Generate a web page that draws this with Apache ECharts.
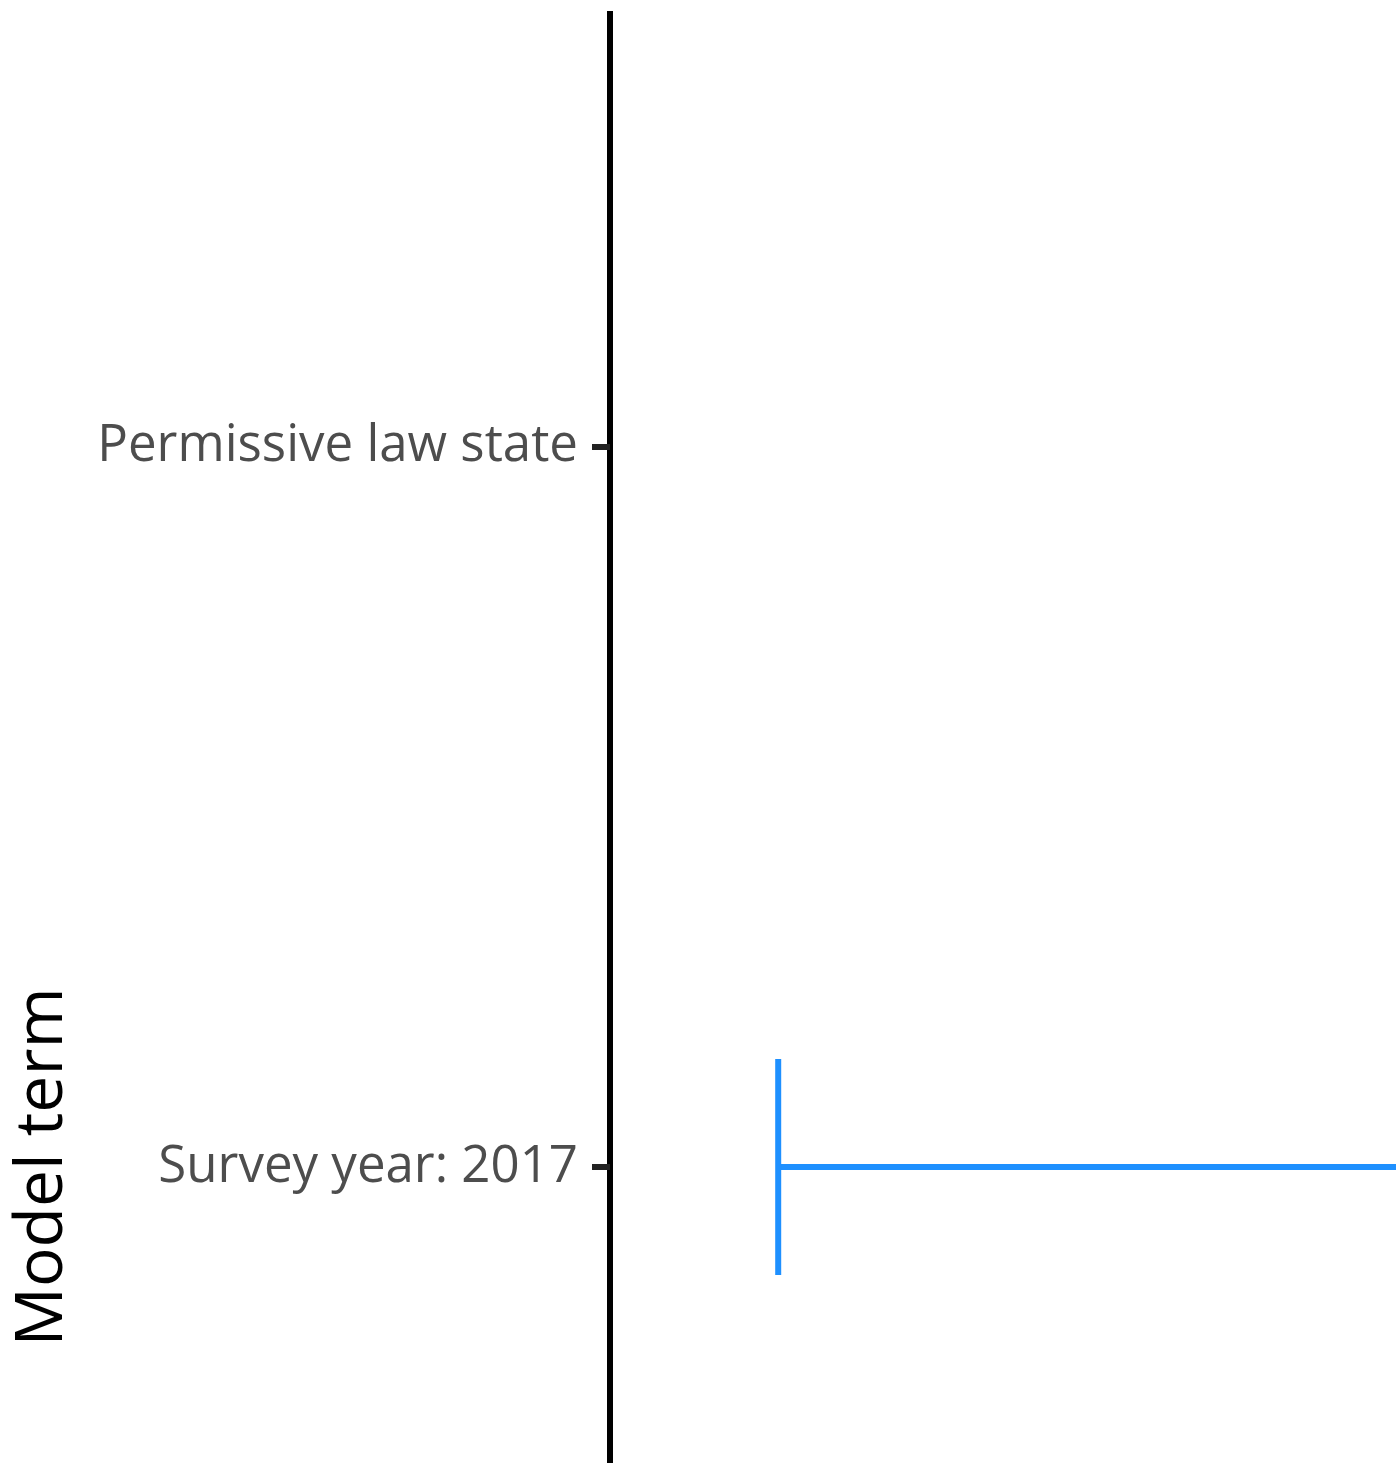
<!DOCTYPE html>
<html>
<head>
<meta charset="utf-8">
<script src="https://cdn.jsdelivr.net/npm/echarts@6/dist/echarts.min.js"></script>
<style>
  html, body { margin: 0; padding: 0; background: #ffffff; }
  #chart { width: 1396px; height: 1463px; }
</style>
</head>
<body>
<div id="chart"></div>
<script>
// Model terms shown on the vertical axis (index 0 at the top)
const categories = ["Permissive law state", "Survey year: 2017"];

// Confidence interval for each plotted term: category index, lower, upper
const termIndex = [1];
const ciLower = [0.214];
const ciUpper = [1.35];

const errorData = termIndex.map((t, i) => [t, ciLower[i], ciUpper[i]]);

const chart = echarts.init(document.getElementById('chart'), null, { renderer: 'canvas' });

chart.setOption({
  backgroundColor: '#ffffff',
  animation: false,
  grid: {
    left: 610, right: 0, top: 14, bottom: -857,
    containLabel: false, outerBoundsMode: 'none'
  },
  xAxis: {
    type: 'value',
    min: 0,
    max: 1,
    show: false
  },
  yAxis: {
    type: 'value',
    inverse: true,
    min: -0.6,
    max: 2.6,
    name: 'Model term',
    nameLocation: 'middle',
    nameGap: 534,
    nameRotate: 90,
    nameTextStyle: { color: '#000000', fontSize: 66, fontFamily: 'Open Sans' },
    axisLine: { show: true, lineStyle: { color: '#000000', width: 6, cap: 'square' } },
    axisTick: {
      show: true, length: 18, customValues: [0, 1],
      lineStyle: { color: '#222222', width: 6 }
    },
    axisLabel: {
      show: true, customValues: [0, 1], margin: 32,
      color: '#4d4d4d', fontSize: 51, fontFamily: 'Open Sans',
      formatter: v => categories[Math.round(v)] || ''
    },
    splitLine: { show: false }
  },
  series: [{
    type: 'custom',
    clip: true,
    data: errorData,
    encode: { y: 0, x: [1, 2] },
    renderItem: function (params, api) {
      const term = api.value(0);
      const lo = api.coord([api.value(1), term]);
      const hi = api.coord([api.value(2), term]);
      const capTop = api.coord([api.value(1), term - 0.15]);
      const capBottom = api.coord([api.value(1), term + 0.15]);
      const style = { stroke: '#1E90FF', lineWidth: 6, fill: null };
      return {
        type: 'group',
        children: [
          { type: 'line', shape: { x1: lo[0], y1: lo[1], x2: hi[0], y2: hi[1] }, style: style },
          { type: 'line', shape: { x1: capTop[0], y1: capTop[1], x2: capBottom[0], y2: capBottom[1] }, style: style }
        ]
      };
    }
  }]
});
</script>
</body>
</html>
